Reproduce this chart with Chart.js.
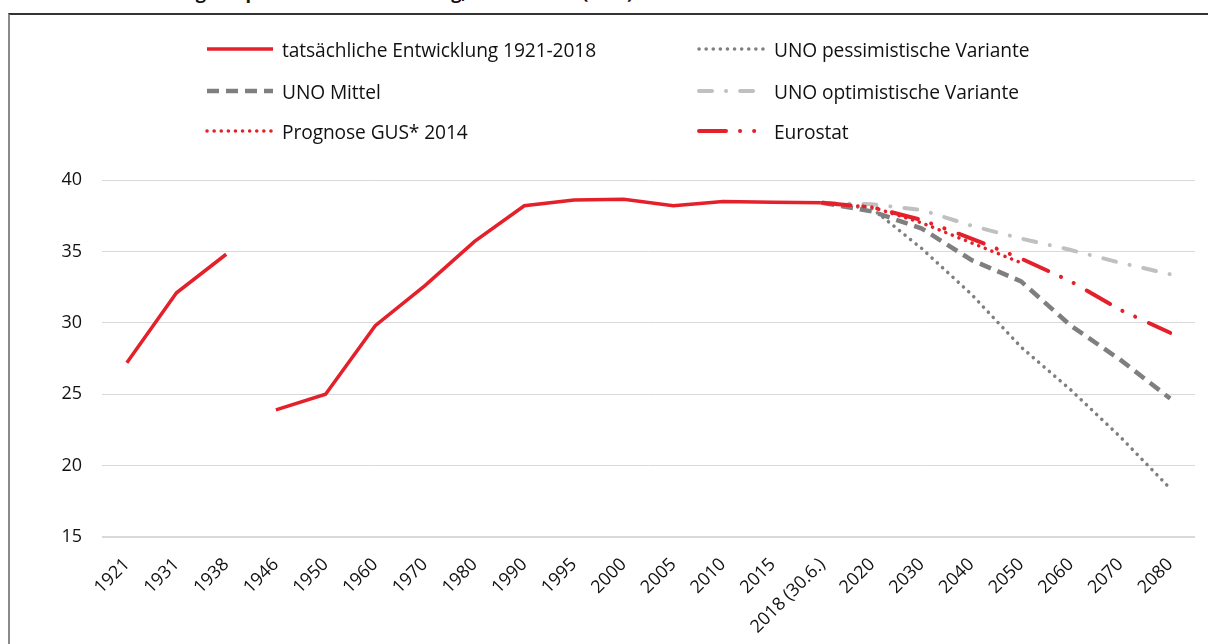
<!DOCTYPE html>
<html>
<head>
<meta charset="utf-8">
<script src="https://cdn.jsdelivr.net/npm/chart.js@4/dist/chart.umd.min.js"></script>
<style>
    html, body { margin: 0; padding: 0; background: #fff; }
    body { width: 1208px; height: 644px; position: relative; overflow: hidden; font-family: 'Open Sans', sans-serif; }
    #title { position: absolute; left: 15px; top: -20px; font-size: 18px; font-weight: 700; color: #111; white-space: nowrap; }
    #frame { position: absolute; left: 8px; top: 13px; width: 1220px; height: 660px; border-top: 2px solid #333; border-left: 2px solid #8a8a8a; background: #fff; }
    #wrap { position: absolute; left: 0; top: 0; width: 1208px; height: 644px; }
    #legend { position: absolute; left: 0; top: 0; width: 1208px; height: 160px; }
    .item { position: absolute; height: 26px; display: flex; align-items: center; font-size: 19.2px; color: #111; white-space: nowrap; letter-spacing: -0.1px; }
    .item svg { margin-right: 7px; }
</style>
</head>
<body>
<div id="title">Grafik 1: Entwicklung der polnischen Bevölkerung, in Millionen (Mio.)</div>
<div id="frame"></div>
<div id="wrap"><canvas id="chart" width="1208" height="644"></canvas></div>
<div id="legend"></div>
<script>
const years = ['1921', '1931', '1938', '1946', '1950', '1960', '1970', '1980', '1990', '1995', '2000',
    '2005', '2010', '2015', '2018 (30.6.)', '2020', '2030', '2040', '2050', '2060', '2070', '2080'];
const actual = [27.2, 32.1, 34.8, 23.9, 25.0, 29.8, 32.6, 35.7, 38.2, 38.6, 38.65,
    38.2, 38.5, 38.45, 38.4, null, null, null, null, null, null, null];
const unoPessimistic = [null, null, null, null, null, null, null, null, null, null, null,
    null, null, null, 38.4, 38.0, 35.2, 32.0, 28.3, 25.3, 22.0, 18.4];
const unoMedium = [null, null, null, null, null, null, null, null, null, null, null,
    null, null, null, 38.4, 37.8, 36.6, 34.4, 32.9, 29.8, 27.4, 24.7];
const unoOptimistic = [null, null, null, null, null, null, null, null, null, null, null,
    null, null, null, 38.4, 38.3, 37.9, 36.8, 35.9, 35.1, 34.2, 33.4];
const gus2014 = [null, null, null, null, null, null, null, null, null, null, null,
    null, null, null, 38.4, 38.1, 37.0, 35.6, 34.2, null, null, null];
const eurostat = [null, null, null, null, null, null, null, null, null, null, null,
    null, null, null, 38.4, 38.1, 37.2, 35.9, 34.5, 32.9, 30.9, 29.3];
// no data between 1938 and 1946 (war years)
const gapAfter = '1938';

const RED = '#e4202a';
const GREY = '#7f7f7f';
const LIGHT = '#c0c0c0';
const tickFont = { family: "'Open Sans', sans-serif", size: 18 };

const datasets = [
    { label: 'tatsächliche Entwicklung 1921-2018', data: actual, borderColor: RED, borderWidth: 3.5, borderDash: [], capStyle: 'butt',
      segment: { borderColor: ctx => years[ctx.p0DataIndex] === gapAfter ? 'rgba(0,0,0,0)' : undefined } },
    { label: 'UNO pessimistische Variante', data: unoPessimistic, borderColor: GREY, borderWidth: 3.5, borderDash: [0.1, 7], capStyle: 'round' },
    { label: 'UNO Mittel', data: unoMedium, borderColor: GREY, borderWidth: 4.5, borderDash: [12, 7], capStyle: 'butt' },
    { label: 'UNO optimistische Variante', data: unoOptimistic, borderColor: LIGHT, borderWidth: 4, borderDash: [13, 14, 0.1, 14], capStyle: 'round' },
    { label: 'Prognose GUS* 2014', data: gus2014, borderColor: RED, borderWidth: 3.5, borderDash: [0.1, 7], capStyle: 'round' },
    { label: 'Eurostat', data: eurostat, borderColor: RED, borderWidth: 4, borderDash: [27, 14, 0.1, 14, 0.1, 15], capStyle: 'round' }
];

new Chart(document.getElementById('chart'), {
    type: 'line',
    data: {
        labels: years,
        datasets: datasets.map(d => ({
            label: d.label,
            data: d.data,
            borderColor: d.borderColor,
            borderWidth: d.borderWidth,
            borderDash: d.borderDash,
            borderCapStyle: d.capStyle,
            segment: d.segment,
            pointRadius: 0,
            tension: 0,
            fill: false,
            spanGaps: false
        })).reverse()
    },
    options: {
        responsive: false,
        animation: false,
        layout: { padding: { left: 20, right: 13, top: 180, bottom: 0 } },
        plugins: { legend: { display: false }, tooltip: { enabled: false } },
        scales: {
            x: {
                offset: true,
                grid: { display: false },
                border: { display: false },
                afterFit: s => { s.height = 107; },
                ticks: { font: tickFont, color: '#111', minRotation: 45, maxRotation: 45, autoSkip: false, padding: 9 }
            },
            y: {
                min: 15,
                max: 40,
                afterFit: s => { s.width = 82; },
                border: { display: false },
                grid: {
                    drawTicks: false,
                    color: '#d9d9d9',
                    lineWidth: ctx => ctx.tick.value === 15 ? 2 : 1
                },
                ticks: { stepSize: 5, font: tickFont, color: '#111', padding: 20 }
            }
        }
    }
});

// two-column legend, samples drawn from the dataset styles
const legend = document.getElementById('legend');
const colX = [205, 697];
const rowY = [36, 78, 118];
datasets.forEach((d, i) => {
    const el = document.createElement('div');
    el.className = 'item';
    el.style.left = colX[i % 2] + 'px';
    el.style.top = rowY[Math.floor(i / 2)] + 'px';
    const dash = d.borderDash.length ? d.borderDash.join(' ') : 'none';
    el.innerHTML = '<svg width="70" height="10"><line x1="2" y1="5" x2="68" y2="5" stroke="' + d.borderColor +
        '" stroke-width="' + d.borderWidth + '" stroke-dasharray="' + dash + '" stroke-linecap="' + d.capStyle + '"/></svg>' +
        '<span>' + d.label + '</span>';
    legend.appendChild(el);
});
</script>
</body>
</html>
